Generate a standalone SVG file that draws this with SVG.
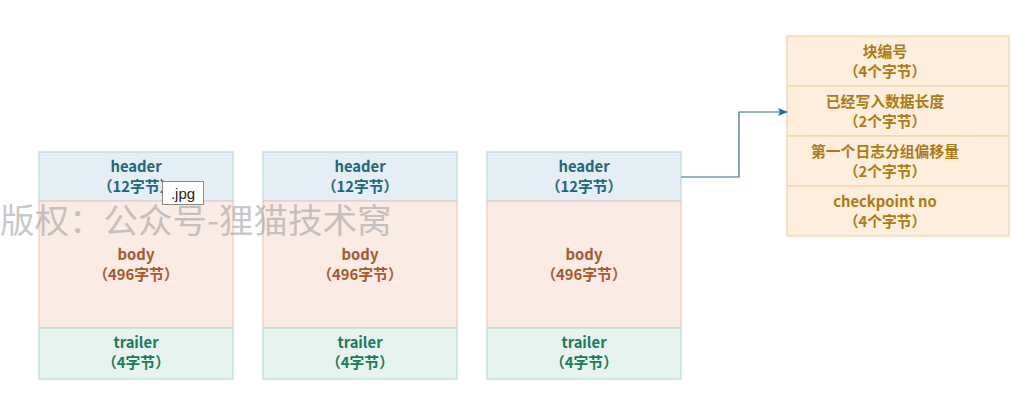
<svg xmlns="http://www.w3.org/2000/svg" width="1011" height="405" viewBox="0 0 1011 405">
<defs>
<style>
.t{font-family:"Noto Sans CJK SC","Liberation Sans",sans-serif;font-size:14.8px;font-weight:600;text-anchor:middle}
.hd{fill:#e5eef2;stroke:#bcd9e1;stroke-width:1.2}
.bd{fill:#fbebe5;stroke:#f0c8b8;stroke-width:1.2}
.tr{fill:#e6f3ee;stroke:#b7ddd0;stroke-width:1.2}
.ht{fill:#23667f}
.bt{fill:#a9582c}
.tt{fill:#1d7a5c}
.rb{fill:#fdeedd;stroke:#f7d3a6;stroke-width:1.2}
.rt{fill:#ad7b14}
</style>
<marker id="arr" markerWidth="10" markerHeight="10" refX="9" refY="5" orient="auto" markerUnits="userSpaceOnUse">
<path d="M0,1 L10,5 L0,9 L2,5 Z" fill="#2a6f9a"/>
</marker>
</defs>
<rect width="1011" height="405" fill="#ffffff"/>
<g id="page1">
<rect class="hd" x="39" y="152" width="194" height="49"/>
<text class="t ht" x="136" y="171.5">header</text>
<text class="t ht" x="136" y="191.5">（12字节）</text>
<rect class="bd" x="39" y="201" width="194" height="127"/>
<text class="t bt" x="136" y="259.5">body</text>
<text class="t bt" x="136" y="279.5">（496字节）</text>
<rect class="tr" x="39" y="328" width="194" height="51"/>
<text class="t tt" x="136" y="347.5">trailer</text>
<text class="t tt" x="136" y="367.5">（4字节）</text>
</g>
<g id="page2">
<rect class="hd" x="263" y="152" width="194" height="49"/>
<text class="t ht" x="360" y="171.5">header</text>
<text class="t ht" x="360" y="191.5">（12字节）</text>
<rect class="bd" x="263" y="201" width="194" height="127"/>
<text class="t bt" x="360" y="259.5">body</text>
<text class="t bt" x="360" y="279.5">（496字节）</text>
<rect class="tr" x="263" y="328" width="194" height="51"/>
<text class="t tt" x="360" y="347.5">trailer</text>
<text class="t tt" x="360" y="367.5">（4字节）</text>
</g>
<g id="page3">
<rect class="hd" x="487" y="152" width="194" height="49"/>
<text class="t ht" x="584" y="171.5">header</text>
<text class="t ht" x="584" y="191.5">（12字节）</text>
<rect class="bd" x="487" y="201" width="194" height="127"/>
<text class="t bt" x="584" y="259.5">body</text>
<text class="t bt" x="584" y="279.5">（496字节）</text>
<rect class="tr" x="487" y="328" width="194" height="51"/>
<text class="t tt" x="584" y="347.5">trailer</text>
<text class="t tt" x="584" y="367.5">（4字节）</text>
</g>
<g id="headerFields">
<rect class="rb" x="787" y="36" width="222" height="50"/>
<text class="t rt" x="885" y="56.5">块编号</text>
<text class="t rt" x="885" y="76.5">（4个字节）</text>
<rect class="rb" x="787" y="86" width="222" height="50"/>
<text class="t rt" x="885" y="106.5">已经写入数据长度</text>
<text class="t rt" x="885" y="126.5">（2个字节）</text>
<rect class="rb" x="787" y="136" width="222" height="50"/>
<text class="t rt" x="885" y="156.5">第一个日志分组偏移量</text>
<text class="t rt" x="885" y="176.5">（2个字节）</text>
<rect class="rb" x="787" y="186" width="222" height="50"/>
<text class="t rt" x="885" y="206.5">checkpoint no</text>
<text class="t rt" x="885" y="226.5">（4个字节）</text>
</g>
<g id="connectors">
<path d="M681,177 H739 V112 H787" fill="none" stroke="#2a6f9a" stroke-width="1.2" marker-end="url(#arr)"/>
</g>
<text x="0" y="233" font-family="Noto Sans CJK SC, sans-serif" font-size="34.5" fill="#9a9a9a" fill-opacity="0.55">版权：公众号-狸猫技术窝</text>
<g id="tooltip">
<rect x="162.5" y="181.5" width="41" height="23" fill="#ffffff" stroke="#888888" stroke-width="1"/>
<text x="183" y="199" font-family="Liberation Sans, sans-serif" font-size="15" fill="#222222" text-anchor="middle">.jpg</text>
</g>
</svg>
